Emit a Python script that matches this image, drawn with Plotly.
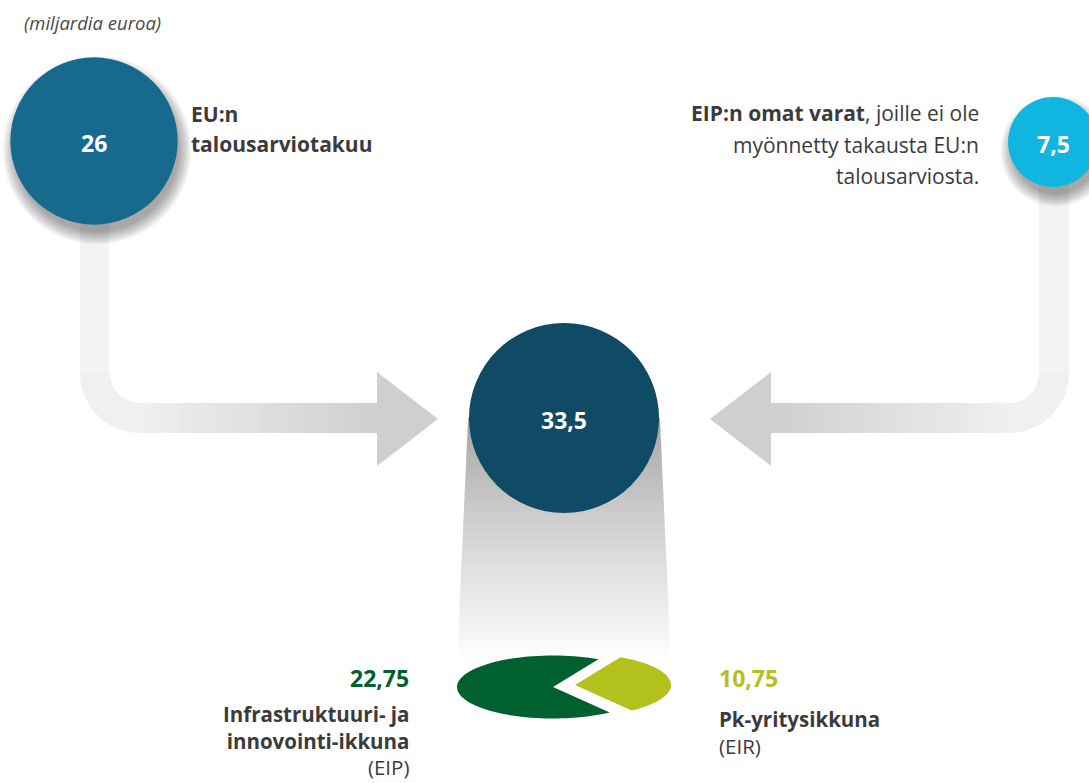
import numpy as np
import plotly.graph_objects as go

# ---------------- data ----------------
unit_label = "(miljardia euroa)"
source_labels_bold = ["EU:n", "EIP:n omat varat"]
source_values = [26.0, 7.5]
total_value = 33.5
window_names = ["Infrastruktuuri- ja innovointi-ikkuna", "Pk-yritysikkuna"]
window_codes = ["EIP", "EIR"]
window_values = [22.75, 10.75]

# ---------------- style ----------------
W, H = 1089, 783
FONT = "Open Sans"
TXT = "#3b3b3b"
C_SRC1 = "#176a8d"
C_SRC2 = "#10b5e0"
C_TOTAL = "#0f4b64"
C_DARKG = "#01612e"
C_LIGHTG = "#b2c11c"
R_TOTAL = 95.0
FS_LABEL = 21
FS_NUM = 23


def fmt(v):
    return f"{v:g}".replace(".", ",")


def radius(v):
    return R_TOTAL * np.sqrt(v / total_value)


def mix(c1, c2, t):
    a = [int(c1[i:i + 2], 16) for i in (1, 3, 5)]
    b = [int(c2[i:i + 2], 16) for i in (1, 3, 5)]
    m = [round(a[k] + (b[k] - a[k]) * t) for k in range(3)]
    return "#%02x%02x%02x" % tuple(m)


fig = go.Figure()
shapes = []
annotations = []


def rect(x0, y0, x1, y1, color):
    shapes.append(dict(type="rect", xref="x", yref="y", x0=x0, x1=x1, y0=y0, y1=y1,
                       fillcolor=color, line=dict(width=0), layer="below"))


def poly(pts, color):
    d = "M " + " L ".join(f"{x:.2f},{y:.2f}" for x, y in pts) + " Z"
    shapes.append(dict(type="path", xref="x", yref="y", path=d, fillcolor=color,
                       line=dict(width=0), layer="below"))


def circle(cx, cy, r, color, opacity=1.0):
    shapes.append(dict(type="circle", xref="x", yref="y", x0=cx - r, x1=cx + r,
                       y0=cy - r, y1=cy + r, fillcolor=color, opacity=opacity,
                       line=dict(width=0), layer="below"))


def text(x, y, s, size, color=TXT, anchor="left", italic=False):
    annotations.append(dict(x=x, y=y, xref="x", yref="y", text=s, showarrow=False,
                            xanchor=anchor, yanchor="middle", align=anchor if anchor != "center" else "center",
                            font=dict(family=FONT, size=size, color=color,
                                      style="italic" if italic else "normal")))


# ---------------- arrows ----------------
def corner(cx, cy, r_out, r_in, a0, a1, n=24):
    ang = np.radians(np.linspace(a0, a1, n))
    outer = [(cx + r_out * np.cos(a), cy + r_out * np.sin(a)) for a in ang]
    inner = [(cx + r_in * np.cos(a), cy + r_in * np.sin(a)) for a in ang[::-1]]
    return outer + inner


DARK = "#cfcfcf"
# left arrow
rect(80, 200, 109, 374, "#f3f3f3")
poly(corner(140, 373, 60, 30, 90, 180), "#f0f0f0")
n = 30
xs = np.linspace(139, 380, n + 1)
for i in range(n):
    rect(xs[i], 403, xs[i + 1] + 0.6, 433, mix("#efefef", DARK, i / (n - 1)))
poly([(377, 372), (438, 419), (377, 466)], DARK)
# right arrow
rect(1039, 180, 1069, 374, "#f3f3f3")
poly(corner(1009, 373, 60, 30, 0, 90), "#f0f0f0")
xs = np.linspace(1010, 768, n + 1)
for i in range(n):
    rect(xs[i + 1] - 0.6, 403, xs[i], 433, mix("#efefef", DARK, i / (n - 1)))
poly([(771, 372), (710, 419), (771, 466)], DARK)

# ---------------- beam under total ----------------
CX_T, CY_T = 564, 418
m = 60
ys = np.linspace(CY_T, 660, m + 1)
for i in range(m):
    t = i / m
    xl = 468 + (457 - 468) * t
    xr = 660 + (671 - 660) * t
    tt = min(1.0, t ** 0.85)
    poly([(xl, ys[i]), (xr, ys[i]), (xr, ys[i + 1] + 0.6), (xl, ys[i + 1] + 0.6)],
         mix("#a2a2a2", "#ffffff", tt))


# ---------------- circles with soft shadow ----------------
def shadow(cx, cy, r, dx=3, dy=9, steps=16, spread=14):
    for k in range(steps):
        rr = r - 3 + spread * (1 - k / steps)
        circle(cx + dx, cy + dy, rr, "#000000", 0.022)


src_centers = [(94, 141), (1053, 142)]
src_colors = [C_SRC1, C_SRC2]
for (cx, cy), v, col in zip(src_centers, source_values, src_colors):
    r = radius(v)
    shadow(cx, cy, r)
    circle(cx, cy, r, col)
    text(cx, cy + 2, f"<b>{fmt(v)}</b>", FS_NUM, "#ffffff", "center")

circle(CX_T, CY_T, radius(total_value), C_TOTAL)
text(CX_T, CY_T + 2, f"<b>{fmt(total_value)}</b>", FS_NUM, "#ffffff", "center")

# ---------------- pie (flattened, exploded) ----------------
PCX, PCY, PRX, PRY = 553, 687, 96, 31.5
START = 61.75  # degrees, light slice starts here and runs clockwise
fr_light = window_values[1] / sum(window_values)
a_light_end = START - 360 * fr_light


def wedge(cx, cy, a0, a1, k=80):
    ang = np.radians(np.linspace(a0, a1, k))
    return [(cx, cy)] + [(cx + PRX * np.cos(a), cy - PRY * np.sin(a)) for a in ang]


poly(wedge(PCX, PCY, START, a_light_end + 360), C_DARKG)
poly(wedge(PCX + 22, PCY - 2, a_light_end, START), C_LIGHTG)

# ---------------- texts ----------------
text(22, 22, unit_label, 18.5, "#4a4a4a", "left", italic=True)

text(189, 114, f"<b>{source_labels_bold[0]}</b>", FS_LABEL)
text(189, 144, "<b>talousarviotakuu</b>", FS_LABEL)

text(981, 113, f"<b>{source_labels_bold[1]}</b>, joille ei ole", FS_LABEL, anchor="right")
text(981, 145, "myönnetty takausta EU:n", FS_LABEL, anchor="right")
text(981, 176, "talousarviosta.", FS_LABEL, anchor="right")

text(411, 678, f"<b>{fmt(window_values[0])}</b>", FS_NUM, C_DARKG, "right")
text(411, 740, "<b>Infrastruktuuri- ja</b><br><b>innovointi-ikkuna</b><br>"
     f"({window_codes[0]})", 20.5, anchor="right")

text(717, 678, f"<b>{fmt(window_values[1])}</b>", FS_NUM, C_LIGHTG, "left")
text(717, 732, f"<b>{window_names[1]}</b><br>({window_codes[1]})", 20.5, anchor="left")

fig.update_layout(
    width=W, height=H, autosize=False,
    margin=dict(l=0, r=0, t=0, b=0, pad=0),
    paper_bgcolor="#ffffff", plot_bgcolor="#ffffff",
    xaxis=dict(range=[0, W], visible=False, fixedrange=True),
    yaxis=dict(range=[H, 0], visible=False, fixedrange=True),
    showlegend=False,
    shapes=shapes, annotations=annotations,
)
fig.write_html("out.html", config={"displayModeBar": False},
               post_script="document.body.style.margin='0';")
